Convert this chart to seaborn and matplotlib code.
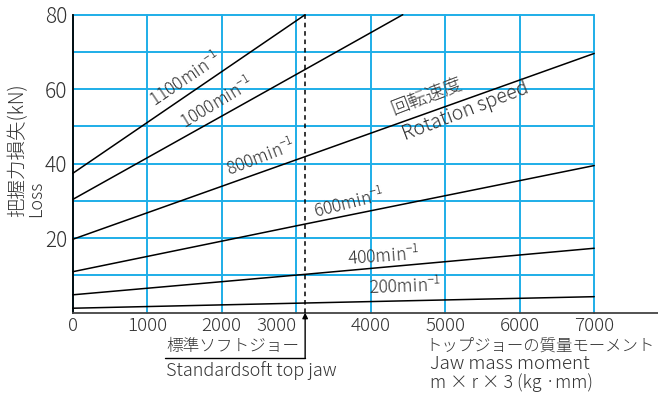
import matplotlib
matplotlib.use("Agg")
import matplotlib.pyplot as plt
import seaborn as sns
import pandas as pd
from matplotlib.lines import Line2D

# ==== Data ====
# x: jaw mass moment (kg·mm), y: loss of gripping force (kN)
speeds = ["1100", "1000", "800", "600", "400", "200"]
x_1100 = [0, 3120]
y_1100 = [37.4, 80]
x_1000 = [0, 3120, 4430]
y_1000 = [30.4, 65.3, 80]
x_800 = [0, 3120, 7000]
y_800 = [19.7, 41.9, 69.6]
x_600 = [0, 3120, 7000]
y_600 = [11.0, 23.8, 39.5]
x_400 = [0, 3120, 7000]
y_400 = [4.8, 10.3, 17.3]
x_200 = [0, 3120, 7000]
y_200 = [1.2, 2.6, 4.3]

std_jaw_x = 3120  # standard soft top jaw
x_ticks = [0, 1000, 2000, 3000, 4000, 5000, 6000, 7000]
y_ticks = [20, 40, 60, 80]
y_minor = [10, 30, 50, 70]

# label position / angle for each curve
label_x = [1510, 1930, 2530, 3710, 4170, 4460]
label_y = [62.5, 56.2, 41.8, 29.4, 15.2, 6.9]
label_rot = [34, 31, 21, 14, 4, 2]

xs = [x_1100, x_1000, x_800, x_600, x_400, x_200]
ys = [y_1100, y_1000, y_800, y_600, y_400, y_200]
frames = [pd.DataFrame({"moment": x, "loss": y, "speed": s}) for s, x, y in zip(speeds, xs, ys)]
df = pd.concat(frames, ignore_index=True)

sns.set_theme(style="white")
plt.rcParams["font.family"] = ["Noto Sans CJK JP", "DejaVu Sans"]
plt.rcParams["font.weight"] = "light"

W, H = 658, 395
fig = plt.figure(figsize=(W / 100, H / 100), dpi=100)
left, right, top, bottom = 72.7, 594.2, 14.7, 312.7
ax = fig.add_axes([left / W, 1 - bottom / H, (right - left) / W, (bottom - top) / H])

grid_c = "#1eaee8"
txt_c = "#333333"
for s in speeds:
    sub = df[df["speed"] == s]
    sns.lineplot(data=sub, x="moment", y="loss", ax=ax, color="black", lw=1.1,
                 legend=False, zorder=3, clip_on=False)

ax.set_xlim(0, 7000)
ax.set_ylim(0, 80)
ax.set_xticks(x_ticks)
ax.set_yticks(y_ticks)
ax.set_yticks(y_minor, minor=True)
ax.set_xticklabels([str(v) for v in x_ticks])
ax.set_yticklabels([str(v) for v in y_ticks])
ax.xaxis.get_majorticklabels()[3].set_ha("right")
ax.grid(True, which="both", color=grid_c, lw=1.4, zorder=1)
ax.tick_params(axis="both", which="both", length=0, colors=txt_c)
ax.tick_params(axis="x", pad=3, labelsize=13.5)
ax.tick_params(axis="y", pad=4, labelsize=15)
for t in ax.xaxis.get_major_ticks() + ax.yaxis.get_major_ticks() + ax.yaxis.get_minor_ticks():
    t.gridline.set_clip_on(False)
ax.set_xlabel("")
ax.set_ylabel("")
for sp in ["top", "right"]:
    ax.spines[sp].set_visible(False)
ax.spines["left"].set_color("black")
ax.spines["left"].set_linewidth(1.3)
ax.spines["bottom"].set_color("#444444")
ax.spines["bottom"].set_linewidth(1.3)
ax.set_axisbelow(True)

# axis line continues to the right edge
fig.add_artist(Line2D([right / W, 1], [1 - bottom / H] * 2, color="#444444", lw=1.3))

# standard jaw dashed line
ax.axvline(std_jaw_x, color="black", ls=(0, (3, 2.5)), lw=1.1, zorder=4)

# curve labels
for s, lx, ly, r in zip(speeds, label_x, label_y, label_rot):
    ax.text(lx, ly, s + r"min$^{\mathregular{-1}}$", rotation=r, rotation_mode="anchor",
            ha="center", va="center", fontsize=12.5, color=txt_c, zorder=5)
ax.text(4760, 57.9, "回転速度", rotation=21, rotation_mode="anchor",
        ha="center", va="center", fontsize=13.5, color=txt_c)
ax.text(5270, 54.1, "Rotation speed", rotation=21, rotation_mode="anchor",
        ha="center", va="center", fontsize=14, color=txt_c)

# y axis titles
fig.text(18 / W, 1 - 217 / H, "把握力損失(kN)", rotation=90, rotation_mode="anchor",
         ha="left", va="center", fontsize=14, color=txt_c)
fig.text(36 / W, 1 - 217 / H, "Loss", rotation=90, rotation_mode="anchor",
         ha="left", va="center", fontsize=13, color=txt_c)

# standard soft top jaw annotation
under_y = 1 - 358 / H
ax.annotate("", xy=(std_jaw_x, 0), xycoords="data",
            xytext=(std_jaw_x, under_y), textcoords=("data", "figure fraction"),
            arrowprops=dict(arrowstyle="-|>", color="black", lw=1.0,
                            shrinkA=0, shrinkB=0, mutation_scale=8))
fig.add_artist(Line2D([165 / W, 305 / W], [under_y, under_y], color="black", lw=1.0))
fig.text(166 / W, 1 - 346 / H, "標準ソフトジョー", ha="left", va="center",
         fontsize=12, color=txt_c)
fig.text(166 / W, 1 - 371 / H, "Standardsoft top jaw", ha="left", va="center",
         fontsize=13, color=txt_c)

# x axis titles
fig.text(425 / W, 1 - 346 / H, "トップジョーの質量モーメント", ha="left", va="center",
         fontsize=11.8, color=txt_c)
fig.text(430 / W, 1 - 364 / H, "Jaw mass moment", ha="left", va="center",
         fontsize=13.5, color=txt_c)
fig.text(430 / W, 1 - 383 / H, "m × r × 3 (kg ·mm)", ha="left", va="center",
         fontsize=12.8, color=txt_c)

fig.savefig("out.png", dpi=100)
